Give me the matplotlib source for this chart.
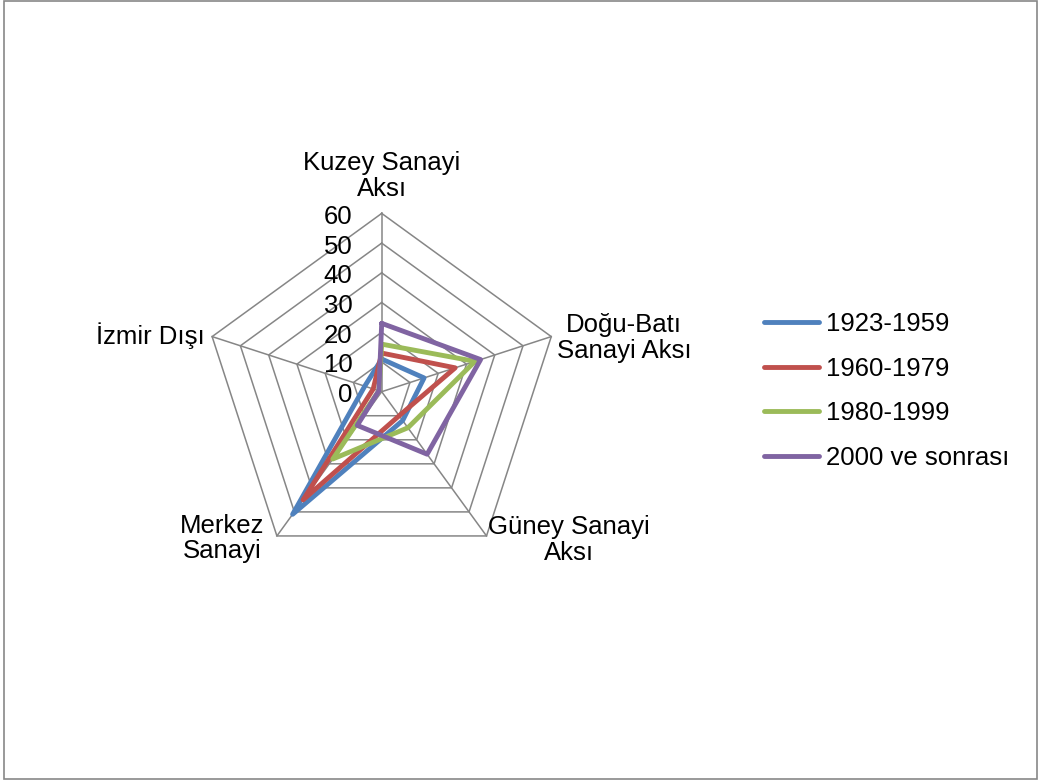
import numpy as np
import matplotlib
matplotlib.use("Agg")
import matplotlib.pyplot as plt
from matplotlib.patches import Rectangle
from matplotlib import transforms

plt.rcParams['font.family'] = ['Liberation Sans', 'DejaVu Sans']

categories = ["Kuzey Sanayi\nAksı", "Doğu-Batı\nSanayi Aksı", "Güney Sanayi\nAksı",
              "Merkez\nSanayi", "İzmir Dışı"]
series_names = ["1923-1959", "1960-1979", "1980-1999", "2000 ve sonrası"]
v_1923_1959 = [11, 15, 12, 51, 6]
v_1960_1979 = [13, 26, 10, 45, 3]
v_1980_1999 = [16, 33, 15, 28, 1]
v_2000_sonra = [23, 35, 26, 14, 1]
r_ticks = [0, 10, 20, 30, 40, 50, 60]

series = [v_1923_1959, v_1960_1979, v_1980_1999, v_2000_sonra]
colors = ["#4F81BD", "#C0504D", "#9BBB59", "#8064A2"]
grid_color = "#868686"
FS = 18.5

W, H = 1040, 783
fig = plt.figure(figsize=(W / 100, H / 100), dpi=100)

cx, cy, R = 381.7, 391.7, 178.3
ax = fig.add_axes([(cx - R) / W, 1 - (cy + R) / H, 2 * R / W, 2 * R / H],
                  projection='polar')
ax.set_theta_offset(np.pi / 2)
ax.set_theta_direction(-1)
ax.set_ylim(0, r_ticks[-1])
ax.grid(False)
ax.set_xticks([])
ax.set_yticks([])
ax.spines['polar'].set_visible(False)
ax.patch.set_visible(False)

n = len(categories)
angles = np.linspace(0, 2 * np.pi, n, endpoint=False)
closed = np.concatenate([angles, angles[:1]])

# polygon grid
for r in r_ticks[1:]:
    ax.plot(closed, [r] * (n + 1), color=grid_color, lw=1.1, clip_on=False, zorder=1)
for a in angles:
    ax.plot([a, a], [0, r_ticks[-1]], color=grid_color, lw=1.1, clip_on=False, zorder=1)

# radial tick labels
off = transforms.offset_copy(ax.transData, fig=fig, x=-21, y=-2.5, units='points')
for r in r_ticks:
    ax.text(0, r, str(r), transform=off, ha='right', va='center', fontsize=FS,
            color='black')

# data
for vals, name, c in zip(series, series_names, colors):
    vv = vals + vals[:1]
    ax.plot(closed, vv, color=c, lw=3.5, label=name, clip_on=False,
            solid_joinstyle='round', solid_capstyle='round', zorder=3)

# category labels
label_cfg = [
    (0, 9, 'center', 'bottom'),
    (4, -1, 'left', 'center'),
    (1, -3, 'left', 'center'),
    (-9, -2, 'right', 'center'),
    (-5, 1, 'right', 'center'),
]
for a, lab, (dx, dy, ha, va) in zip(angles, categories, label_cfg):
    t = transforms.offset_copy(ax.transData, fig=fig, x=dx, y=dy, units='points')
    ax.text(a, r_ticks[-1], lab, transform=t, ha=ha, va=va, fontsize=FS,
            multialignment='center', linespacing=1.08)

leg = fig.legend(loc='upper left', bbox_to_anchor=(764 / W, 1 - 312 / H),
                 frameon=False, fontsize=FS, handlelength=2.15, handletextpad=0.25,
                 labelspacing=0.8, borderpad=0, borderaxespad=0)
for h in leg.get_lines():
    h.set_linewidth(3.5)
    h.set_solid_capstyle('round')

fig.patches.append(Rectangle((4 / W, 1 - 779 / H), 1033 / W, 778 / H,
                             transform=fig.transFigure, fill=False,
                             edgecolor='#878787', lw=1.2))

fig.savefig("out.png", dpi=100, facecolor='white')
